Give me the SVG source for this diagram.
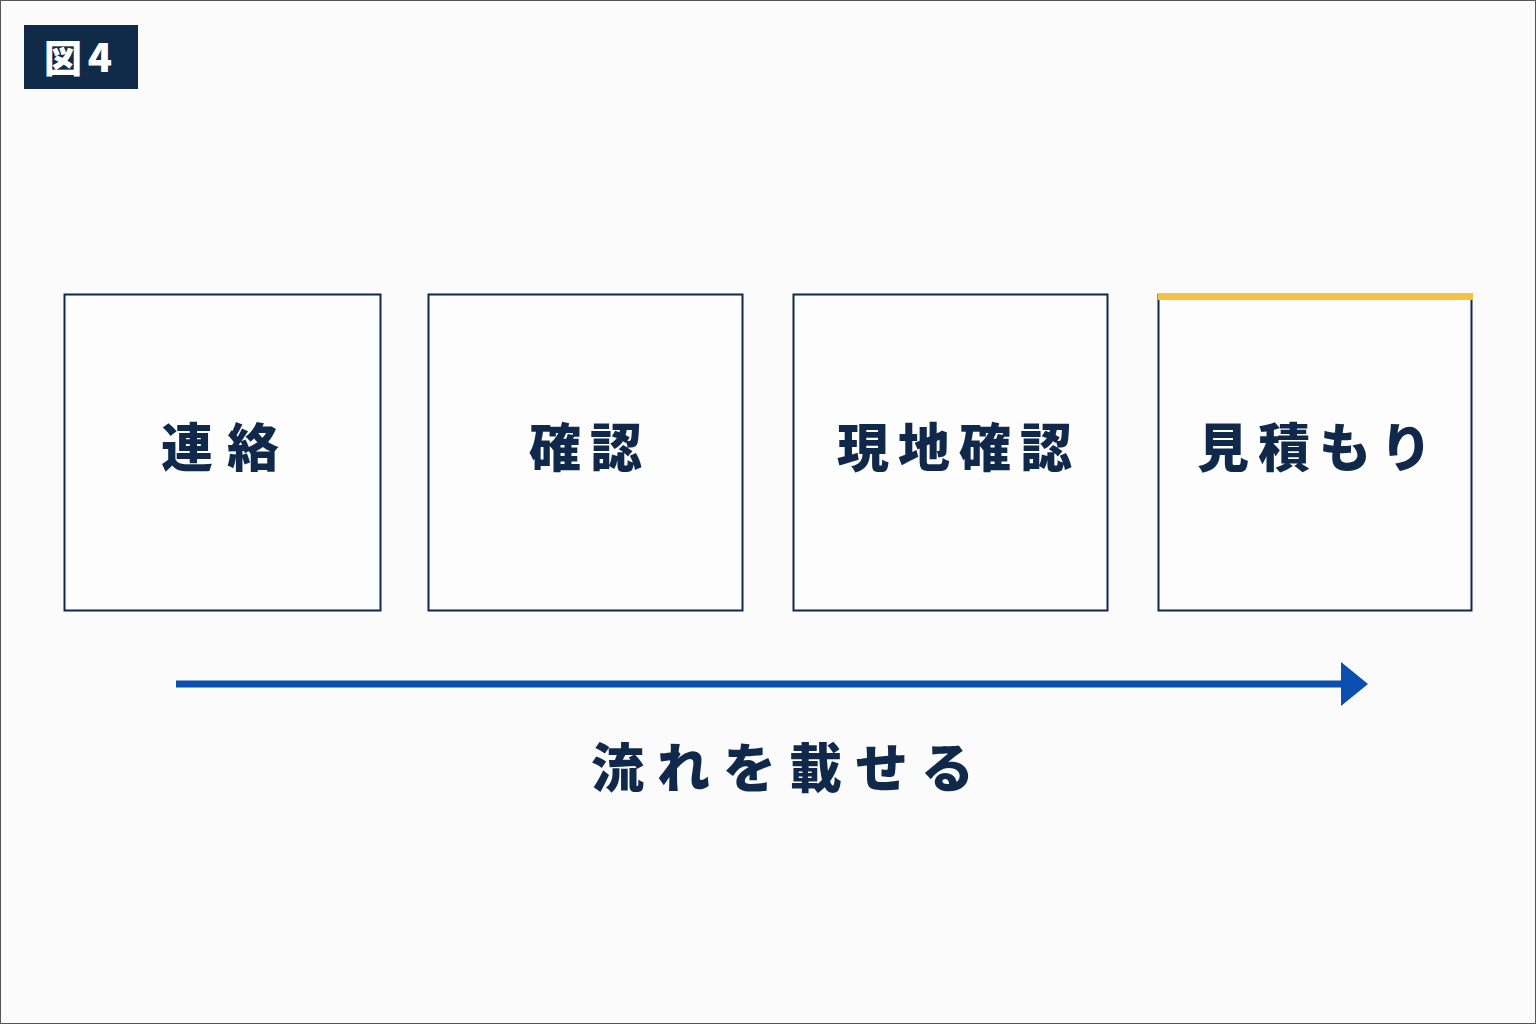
<svg xmlns="http://www.w3.org/2000/svg" width="1536" height="1024" viewBox="0 0 1536 1024">
<defs>
<style>
.box{fill:#fdfdfd;stroke:#10294a;stroke-width:2}
.t{font-family:"Noto Sans CJK JP","Noto Sans",sans-serif;font-weight:900;fill:#10294a;text-anchor:middle}
.node{font-size:52px;letter-spacing:9px}
</style>
<marker id="ah" viewBox="0 0 10 10" refX="0" refY="5" markerWidth="27" markerHeight="44" markerUnits="userSpaceOnUse" orient="auto" preserveAspectRatio="none">
<path d="M0 0 L10 5 L0 10 Z" fill="#0b4fae"/>
</marker>
</defs>
<rect x="0" y="0" width="1536" height="1024" fill="#fbfbfb"/>
<rect x="0.5" y="0.5" width="1535" height="1023" fill="none" stroke="#555" stroke-width="1"/>
<g id="fig-label">
<rect x="24" y="25" width="114" height="64" fill="#0f2b47"/>
<text x="63" y="72" class="t" style="fill:#fff;font-size:38px">図</text>
<text x="100" y="72" class="t" style="fill:#fff;font-size:40px">4</text>
</g>
<g id="node1">
<rect class="box" x="64.5" y="294.5" width="316" height="316"/>
<text class="t node" x="227" y="467" style="letter-spacing:14px">連絡</text>
</g>
<g id="node2">
<rect class="box" x="428.5" y="294.5" width="314" height="316"/>
<text class="t node" x="590" y="467">確認</text>
</g>
<g id="node3">
<rect class="box" x="793.5" y="294.5" width="314" height="316"/>
<text class="t node" x="959" y="467">現地確認</text>
</g>
<g id="node4">
<rect class="box" x="1158.5" y="294.5" width="313" height="316"/>
<rect x="1158" y="293" width="315" height="7" fill="#f5c244"/>
<text class="t node" x="1319" y="467">見積もり</text>
</g>
<g id="connectors">
<line x1="176" y1="684" x2="1341" y2="684" stroke="#0b4fae" stroke-width="7" marker-end="url(#ah)"/>
</g>
<g id="caption">
<text class="t" x="789" y="788" style="font-size:53px;letter-spacing:13px">流れを載せる</text>
</g>
</svg>
